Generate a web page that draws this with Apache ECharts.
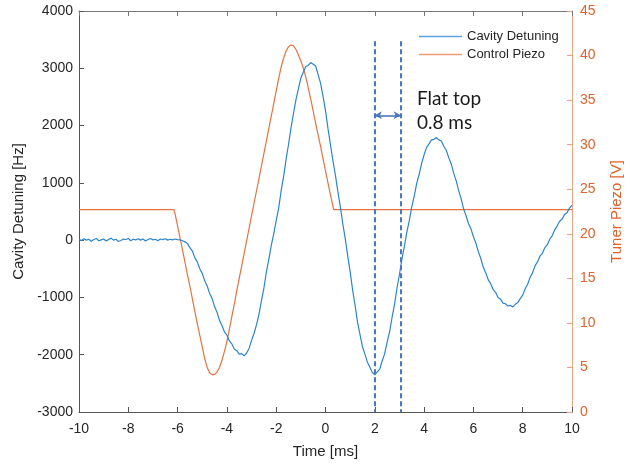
<!DOCTYPE html>
<html>
<head>
<meta charset="utf-8">
<script src="https://cdn.jsdelivr.net/npm/echarts@6/dist/echarts.min.js"></script>
<style>
  html, body { margin: 0; padding: 0; background: #ffffff; }
  #chart { width: 632px; height: 464px; }
</style>
</head>
<body>
<div id="chart"></div>
<script>
// Cavity detuning sampled every 0.1 ms from -10 ms to 10 ms (Hz)
const detuningStartMs = -10;
const detuningStepMs = 0.1;
const detuningHz = [
  10, -5, 25, 0, 15, -20, 10, 30, -10, 5,
  20, -15, 10, 35, 0, 15, -25, -5, 20, 10,
  30, -10, 15, 5, 25, 0, 20, -15, 10, 30,
  5, 15, -10, 20, 10, 25, 0, 15, 5, 20,
  10, 5, -10, -30, -60, -130, -190, -310, -380, -500,
  -580, -710, -800, -930, -1020, -1160, -1260, -1400, -1490, -1600,
  -1660, -1760, -1810, -1900, -1930, -1990, -1980, -2020, -1970, -1890,
  -1750, -1630, -1480, -1300, -1060, -840, -560, -340, -90, 110,
  340, 560, 860, 1110, 1410, 1670, 1960, 2210, 2450, 2640,
  2830, 2930, 3030, 3050, 3100, 3070, 3040, 2890, 2740, 2510,
  2260, 1950, 1670, 1390, 1140, 850, 590, 290, 30, -270,
  -550, -870, -1140, -1430, -1650, -1860, -1990, -2130, -2220, -2310,
  -2350, -2300, -2250, -2110, -1980, -1780, -1600, -1350, -1120, -840,
  -600, -330, -110, 140, 340, 580, 770, 990, 1150, 1340,
  1490, 1620, 1680, 1750, 1760, 1790, 1750, 1730, 1640, 1570,
  1440, 1330, 1170, 1040, 870, 730, 550, 430, 290, 200,
  60, -50, -200, -320, -470, -570, -690, -760, -860, -910,
  -1000, -1030, -1100, -1110, -1150, -1140, -1165, -1120, -1090, -1020,
  -960, -850, -770, -650, -570, -450, -380, -280, -230, -130,
  -80, 20, 80, 180, 250, 330, 370, 450, 480, 560,
  610
];

// Control piezo drive: [time ms, voltage V]
const piezoPoints = [
  [-10, 22.7], [-6.15, 22.7], [-6.1, 22.2], [-6.0, 20.9], [-5.9, 19.5],
  [-5.8, 18.2], [-5.7, 16.8], [-5.6, 15.4], [-5.5, 14.1], [-5.4, 12.7],
  [-5.3, 11.3], [-5.2, 9.9], [-5.1, 8.6], [-5.0, 7.3], [-4.9, 6.0],
  [-4.8, 5.0], [-4.7, 4.4], [-4.6, 4.2], [-4.5, 4.2], [-4.4, 4.5],
  [-4.3, 5.0], [-4.2, 5.8], [-4.1, 6.8], [-4.0, 7.9], [-3.9, 9.3],
  [-3.8, 10.7], [-3.7, 12.1], [-3.6, 13.6], [-3.5, 15.0], [-3.4, 16.4],
  [-3.3, 17.8], [-3.2, 19.2], [-3.1, 20.6], [-3.0, 22.0], [-2.9, 23.4],
  [-2.8, 24.8], [-2.7, 26.2], [-2.6, 27.6], [-2.5, 29.0], [-2.4, 30.4],
  [-2.3, 31.8], [-2.2, 33.2], [-2.1, 34.6], [-2.0, 36.0], [-1.9, 37.4],
  [-1.8, 38.7], [-1.7, 39.7], [-1.6, 40.5], [-1.5, 41.0], [-1.4, 41.2],
  [-1.3, 41.1], [-1.2, 40.7], [-1.1, 40.1], [-1.0, 39.4], [-0.9, 38.6],
  [-0.8, 37.6], [-0.7, 36.4], [-0.6, 35.1], [-0.5, 33.8], [-0.4, 32.4],
  [-0.3, 31.1], [-0.2, 29.8], [-0.1, 28.4], [0.0, 27.1], [0.1, 25.7],
  [0.2, 24.4], [0.3, 23.1], [0.33, 22.7], [10, 22.7]
];

// Flat-top window markers (ms) and annotation
const flatTopStartMs = 2;
const flatTopEndMs = 3.05;
const markerTopHz = 3470;
const arrowHz = 2180;
const annotationLines = ['Flat top', '0.8 ms'];

const seriesNames = ['Cavity Detuning', 'Control Piezo'];

const detuningPoints = detuningHz.map((v, i) =>
  [+(detuningStartMs + i * detuningStepMs).toFixed(2), v]);

const AXIS_FONT = 'Liberation Sans, Arial, sans-serif';
const DARK = '#262626';
const ORANGE_TEXT = '#e0622c';
const BLUE = '#2a84d2';
const ORANGE = '#e8713f';
const MARKER = '#4b77be';

const plainNumber = v => String(v);

const chart = echarts.init(document.getElementById('chart'), null, { renderer: 'canvas' });

const option = {
  animation: false,
  backgroundColor: '#ffffff',
  grid: { left: 79, right: 57, top: 11, bottom: 47, containLabel: false },
  legend: {
    data: [
      { name: seriesNames[0], icon: 'rect', itemStyle: { color: '#5aa2e0' } },
      { name: seriesNames[1], icon: 'rect', itemStyle: { color: '#ef9a78' } }
    ],
    orient: 'vertical',
    left: 419,
    top: 29,
    itemWidth: 43,
    itemHeight: 1.3,
    itemGap: 3,
    padding: 0,
    textStyle: { fontFamily: AXIS_FONT, fontSize: 13, color: DARK, lineHeight: 15 }
  },
  xAxis: [
    {
      type: 'value', min: -10, max: 10, interval: 2,
      position: 'bottom',
      name: 'Time [ms]', nameLocation: 'middle', nameGap: 32,
      nameTextStyle: { fontFamily: AXIS_FONT, fontSize: 15, color: DARK },
      axisLine: { show: true, onZero: false, lineStyle: { color: '#555555', width: 1 } },
      axisTick: { show: true, inside: true, length: 5, lineStyle: { color: '#555555' } },
      axisLabel: { fontFamily: AXIS_FONT, fontSize: 14, color: DARK, margin: 10, formatter: plainNumber },
      splitLine: { show: false }
    },
    {
      type: 'value', min: -10, max: 10, interval: 2,
      position: 'top',
      axisLine: { show: true, onZero: false, lineStyle: { color: '#777777', width: 1 } },
      axisTick: { show: true, inside: true, length: 5, lineStyle: { color: '#777777' } },
      axisLabel: { show: false },
      splitLine: { show: false }
    }
  ],
  yAxis: [
    {
      type: 'value', min: -3000, max: 4000, interval: 1000,
      position: 'left',
      name: 'Cavity Detuning [Hz]', nameLocation: 'middle', nameGap: 42, nameRotate: 90,
      nameTextStyle: { fontFamily: AXIS_FONT, fontSize: 15, color: DARK },
      axisLine: { show: true, onZero: false, lineStyle: { color: '#555555', width: 1 } },
      axisTick: { show: true, inside: true, length: 5, lineStyle: { color: '#555555' } },
      axisLabel: { fontFamily: AXIS_FONT, fontSize: 14, color: DARK, margin: 6, formatter: plainNumber },
      splitLine: { show: false }
    },
    {
      type: 'value', min: 0, max: 45, interval: 5,
      position: 'right',
      name: 'Tuner Piezo [V]', nameLocation: 'middle', nameGap: 37, nameRotate: 90,
      nameTextStyle: { fontFamily: AXIS_FONT, fontSize: 15, color: ORANGE_TEXT },
      axisLine: { show: true, onZero: false, lineStyle: { color: '#f0a07f', width: 1 } },
      axisTick: { show: true, inside: true, length: 5, lineStyle: { color: '#f0a07f' } },
      axisLabel: { fontFamily: AXIS_FONT, fontSize: 14, color: ORANGE_TEXT, margin: 8, formatter: plainNumber },
      splitLine: { show: false }
    }
  ],
  series: [
    {
      name: seriesNames[1],
      type: 'line',
      xAxisIndex: 0,
      yAxisIndex: 1,
      data: piezoPoints,
      symbol: 'none',
      smooth: false,
      color: ORANGE,
      lineStyle: { color: ORANGE, width: 1.2 },
      z: 2
    },
    {
      name: seriesNames[0],
      type: 'line',
      xAxisIndex: 0,
      yAxisIndex: 0,
      data: detuningPoints,
      symbol: 'none',
      smooth: false,
      color: BLUE,
      lineStyle: { color: BLUE, width: 1.2 },
      z: 3,
      markLine: {
        silent: true,
        symbol: ['none', 'none'],
        label: { show: false },
        data: [
          [
            { coord: [flatTopStartMs, markerTopHz], lineStyle: { color: MARKER, width: 2, type: [5, 3] } },
            { coord: [flatTopStartMs, -3000] }
          ],
          [
            { coord: [flatTopEndMs, markerTopHz], lineStyle: { color: MARKER, width: 2, type: [5, 3] } },
            { coord: [flatTopEndMs, -3000] }
          ],
          [
            { coord: [flatTopStartMs, arrowHz], symbol: 'arrow', symbolSize: [6, 7],
              lineStyle: { color: MARKER, width: 1.6, type: 'solid' } },
            { coord: [flatTopEndMs, arrowHz], symbol: 'arrow', symbolSize: [6, 7] }
          ]
        ]
      },
      markPoint: {
        silent: true,
        symbol: 'circle',
        symbolSize: 0,
        data: [
          { coord: [3.71, 2466], value: 0,
            label: { show: true, position: 'right', distance: 0, formatter: annotationLines[0],
                     fontFamily: 'Lato, sans-serif', fontSize: 19, color: '#1a1a1a' } },
          { coord: [3.71, 2052], value: 0,
            label: { show: true, position: 'right', distance: 0, formatter: annotationLines[1],
                     fontFamily: 'Lato, sans-serif', fontSize: 19, color: '#1a1a1a' } }
        ]
      }
    }
  ]
};

chart.setOption(option);
</script>
</body>
</html>
